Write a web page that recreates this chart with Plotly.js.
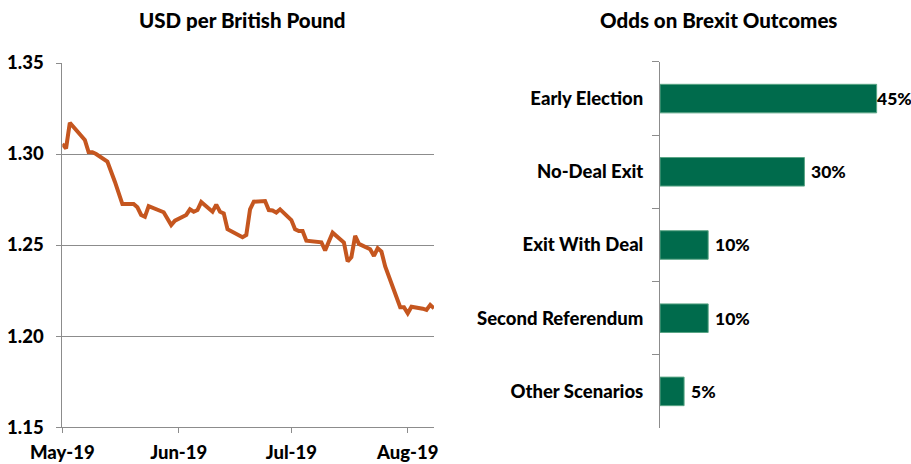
<!DOCTYPE html>
<html>
<head>
<meta charset="utf-8">
<script src="https://cdn.plot.ly/plotly-3.0.1.min.js"></script>
<style>html,body{margin:0;padding:0;background:#fff;}#chart{width:911px;height:464px;}</style>
</head>
<body>
<div id="chart"></div>
<script>
// USD per British Pound (trading days)
const fxDates = [
  '2019-05-01','2019-05-02','2019-05-03','2019-05-07','2019-05-08','2019-05-09','2019-05-10',
  '2019-05-13','2019-05-15','2019-05-16','2019-05-17','2019-05-20','2019-05-21','2019-05-22',
  '2019-05-23','2019-05-24','2019-05-28','2019-05-30','2019-05-31',
  '2019-06-03','2019-06-04','2019-06-05','2019-06-06','2019-06-07','2019-06-10','2019-06-11',
  '2019-06-12','2019-06-13','2019-06-14','2019-06-18','2019-06-19','2019-06-20','2019-06-21',
  '2019-06-24','2019-06-25','2019-06-26','2019-06-27','2019-06-28',
  '2019-07-01','2019-07-02','2019-07-03','2019-07-04','2019-07-05','2019-07-09','2019-07-10',
  '2019-07-11','2019-07-12','2019-07-15','2019-07-16','2019-07-17','2019-07-18','2019-07-19',
  '2019-07-22','2019-07-23','2019-07-24','2019-07-25','2019-07-26',
  '2019-07-30','2019-07-31','2019-08-01','2019-08-02','2019-08-05','2019-08-06','2019-08-07','2019-08-08'
];
const fxValues = [
  1.3055,1.3031,1.3172,1.3077,1.3011,1.3010,1.3000,
  1.2958,1.2848,1.2793,1.2725,1.2725,1.2707,1.2665,
  1.2655,1.2714,1.2680,1.2610,1.2634,
  1.2665,1.2696,1.2683,1.2692,1.2736,1.2683,1.2722,
  1.2683,1.2674,1.2587,1.2543,1.2555,1.2696,1.2738,
  1.2742,1.2692,1.2690,1.2678,1.2696,
  1.2637,1.2587,1.2577,1.2577,1.2524,1.2515,1.2470,
  1.2519,1.2568,1.2514,1.2410,1.2434,1.2550,1.2506,
  1.2477,1.2440,1.2482,1.2464,1.2382,
  1.2158,1.2158,1.2125,1.2161,1.2150,1.2143,1.2171,1.2152
];
const monthTicks = ['2019-05-01','2019-06-01','2019-07-01','2019-08-01'];
const monthLabels = ['May-19','Jun-19','Jul-19','Aug-19'];
const yTicks = [1.15,1.20,1.25,1.30,1.35];
const yLabels = ['1.15','1.20','1.25','1.30','1.35'];

// Odds on Brexit outcomes
const outcomes = ['Early Election','No-Deal Exit','Exit With Deal','Second Referendum','Other Scenarios'];
const odds = [45,30,10,10,5];

const FONT = 'Lato, "Open Sans", sans-serif';
const W = 900;
const GRAY = '#8c8c8c';

const maxOdd = Math.max(...odds);
const labelAnns = outcomes.map((c,i)=>({
  xref:'x2', yref:'y2', x: odds[i], y: c, text: odds[i] + '%',
  showarrow:false, xanchor:'left', yanchor:'middle',
  xshift: odds[i] === maxOdd ? -2 : 5,
  font:{family:FONT, size:17.5, color:'#000', weight:W}
}));

const data = [
  {type:'scatter', mode:'lines', x: fxDates, y: fxValues, xaxis:'x', yaxis:'y',
   line:{color:'#C5561F', width:4}, hoverinfo:'skip'},
  {type:'bar', orientation:'h', x: odds, y: outcomes, xaxis:'x2', yaxis:'y2',
   marker:{color:'#006B4C', line:{color:'#5aa585', width:1}}, width:0.39, hoverinfo:'skip'}
];

const layout = {
  width:911, height:464, margin:{l:0,r:0,t:0,b:0},
  paper_bgcolor:'#fff', plot_bgcolor:'rgba(0,0,0,0)', showlegend:false,
  font:{family:FONT, color:'#000'},
  xaxis:{domain:[0.0684,0.4764], type:'date', range:['2019-05-01','2019-08-08'],
    tickvals: monthTicks, ticktext: monthLabels, ticks:'outside', ticklen:5, tickcolor:GRAY,
    showgrid:false, showline:true, linecolor:GRAY, linewidth:1, zeroline:false,
    tickfont:{family:FONT, size:18.5, weight:W}, ticklabelstandoff:4, anchor:'y', fixedrange:true},
  yaxis:{domain:[0.0797,0.8642], range:[1.15,1.35], tickvals:yTicks, ticktext:yLabels,
    ticks:'outside', ticklen:5, tickcolor:GRAY, showgrid:true, gridcolor:GRAY, gridwidth:1,
    showline:true, linecolor:GRAY, linewidth:1, zeroline:false,
    tickfont:{family:FONT, size:18.5, weight:W}, ticklabelstandoff:9, anchor:'x', fixedrange:true},
  xaxis2:{domain:[0.7245,0.9887], range:[0,50], visible:false, anchor:'y2', fixedrange:true},
  yaxis2:{domain:[0.0776,0.8664], type:'category', categoryorder:'array', categoryarray:outcomes,
    autorange:'reversed', tickson:'boundaries', ticks:'outside', ticklen:7, tickcolor:GRAY,
    showline:true, linecolor:GRAY, linewidth:1, showgrid:false, zeroline:false,
    tickfont:{family:FONT, size:18.5, weight:W}, ticklabelstandoff:12, anchor:'x2', fixedrange:true},
  annotations:[
    {xref:'paper', yref:'paper', x:242/911, y:1-20/464, text:'USD per British Pound', showarrow:false,
     xanchor:'center', yanchor:'middle', font:{family:FONT, size:20.5, weight:W}},
    {xref:'paper', yref:'paper', x:718/911, y:1-20/464, text:'Odds on Brexit Outcomes', showarrow:false,
     xanchor:'center', yanchor:'middle', font:{family:FONT, size:20.5, weight:W}},
    ...labelAnns
  ]
};

Plotly.newPlot('chart', data, layout, {staticPlot:true, displayModeBar:false});
</script>
</body>
</html>
